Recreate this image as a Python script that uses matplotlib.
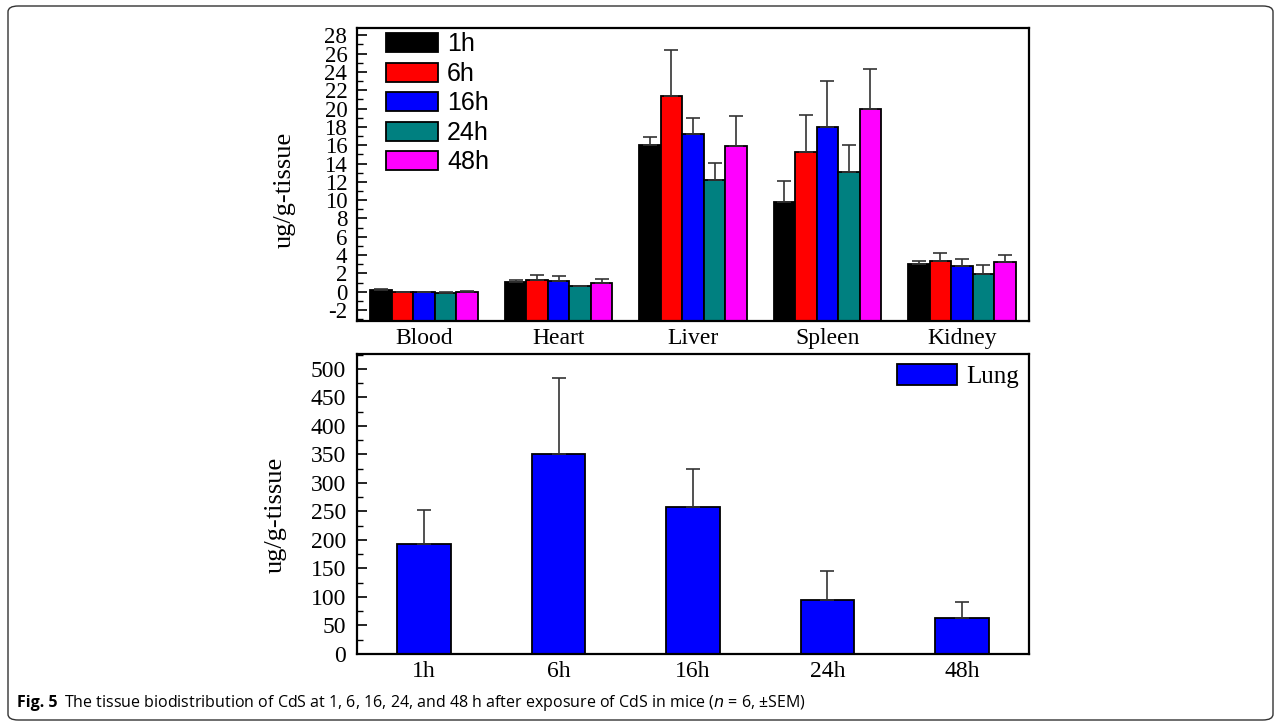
import numpy as np
import matplotlib
matplotlib.use("Agg")
import matplotlib.pyplot as plt
from matplotlib.patches import FancyBboxPatch
from matplotlib.ticker import MultipleLocator

plt.rcParams["axes.unicode_minus"] = False

# data
organs = ["Blood", "Heart", "Liver", "Spleen", "Kidney"]
times = ["1h", "6h", "16h", "24h", "48h"]
colors = ["#000000", "#ff0000", "#0000ff", "#008080", "#ff00ff"]

mean_1h = [0.2, 1.1, 16.0, 9.8, 3.0]
mean_6h = [-0.05, 1.3, 21.4, 15.3, 3.35]
mean_16h = [-0.05, 1.15, 17.2, 18.0, 2.8]
mean_24h = [-0.1, 0.6, 12.2, 13.1, 1.95]
mean_48h = [0.0, 0.9, 15.9, 20.0, 3.2]
err_1h = [0.05, 0.2, 0.9, 2.3, 0.3]
err_6h = [0.05, 0.55, 5.0, 4.0, 0.85]
err_16h = [0.05, 0.6, 1.8, 5.0, 0.75]
err_24h = [0.05, 0.0, 1.9, 2.95, 1.0]
err_48h = [0.05, 0.5, 3.3, 4.35, 0.8]

lung_mean = [193, 350, 257, 95, 63]
lung_err = [60, 134, 68, 50, 28]

means = [mean_1h, mean_6h, mean_16h, mean_24h, mean_48h]
errs = [err_1h, err_6h, err_16h, err_24h, err_48h]

serif = "Liberation Serif"

fig = plt.figure(figsize=(12.81, 7.26), dpi=100)
W, H = 1281, 726

# outer frame
frame = FancyBboxPatch((8 / W, 6 / H), 1265 / W, 714 / H,
                       boxstyle="round,pad=0,rounding_size=0.008",
                       transform=fig.transFigure, fill=False,
                       edgecolor="#333333", linewidth=1.0)
fig.patches.append(frame)

ax1 = fig.add_axes([357 / W, 1 - 321 / H, 672 / W, 293 / H])
ax2 = fig.add_axes([357 / W, 1 - 654 / H, 672 / W, 300 / H])

# top: grouped bars (Origin style, bars start at bottom of the axis)
ymin1, ymax1 = -3.2, 28.8
x = np.arange(len(organs))
bw = 0.16
ekw = dict(ecolor="#333333", elinewidth=1.2, capsize=5, capthick=1.2)
for i, t in enumerate(times):
    pos = x + (i - 2) * bw
    m = np.array(means[i])
    ax1.bar(pos, m - ymin1, bw, bottom=ymin1, color=colors[i],
            edgecolor="black", linewidth=1.3,
            yerr=[np.zeros(len(organs)), errs[i]], error_kw=ekw,
            label=t, zorder=2)

ax1.set_xlim(-0.5, 4.5)
ax1.set_ylim(ymin1, ymax1)
ax1.yaxis.set_major_locator(MultipleLocator(2))
ax1.yaxis.set_minor_locator(MultipleLocator(1))
ax1.set_xticks(x)
ax1.set_xticklabels(organs, fontsize=17, family=serif)
ax1.tick_params(axis="x", length=0, pad=5)
ax1.tick_params(axis="y", which="major", direction="in", length=7, width=1.2,
                labelsize=16.5, pad=7)
ax1.tick_params(axis="y", which="minor", direction="in", length=4, width=1.0)
for lab in ax1.get_yticklabels():
    lab.set_family(serif)
ax1.set_ylabel("ug/g-tissue", fontsize=19, family=serif)
ax1.yaxis.set_label_coords(-0.092, 0.447)
for s in ax1.spines.values():
    s.set_linewidth(1.6)
ax1.legend(loc="upper left", bbox_to_anchor=(0.043, 0.985),
           frameon=False, borderpad=0, borderaxespad=0,
           handlelength=2.1, handleheight=0.8, labelspacing=0.22,
           handletextpad=0.35, prop={"family": "Liberation Sans", "size": 18})

# bottom: lung
x2 = np.arange(len(times))
ax2.bar(x2, lung_mean, 0.4, color="#0000ff", edgecolor="black", linewidth=1.3,
        yerr=[np.zeros(len(times)), lung_err], error_kw=ekw, label="Lung",
        zorder=2)
ax2.set_xlim(-0.5, 4.5)
ax2.set_ylim(0, 526)
ax2.yaxis.set_major_locator(MultipleLocator(50))
ax2.yaxis.set_minor_locator(MultipleLocator(25))
ax2.set_xticks(x2)
ax2.set_xticklabels(times, fontsize=17, family=serif)
ax2.tick_params(axis="x", length=0, pad=5)
ax2.tick_params(axis="y", which="major", direction="in", length=7, width=1.2,
                labelsize=17, pad=8)
ax2.tick_params(axis="y", which="minor", direction="in", length=4, width=1.0)
for lab in ax2.get_yticklabels():
    lab.set_family(serif)
ax2.set_ylabel("ug/g-tissue", fontsize=19, family=serif)
ax2.yaxis.set_label_coords(-0.104, 0.463)
for s in ax2.spines.values():
    s.set_linewidth(1.6)
ax2.legend(loc="upper right", bbox_to_anchor=(0.985, 0.967), frameon=False,
           borderpad=0, borderaxespad=0, handlelength=2.4, handleheight=0.9,
           handletextpad=0.35, prop={"family": serif, "size": 18})

# caption
fig.text(17 / W, 1 - 703 / H, "Fig. 5", fontsize=11.5, fontweight="bold",
         family="Open Sans", va="center")
fig.text(64 / W, 1 - 703 / H,
         "The tissue biodistribution of CdS at 1, 6, 16, 24, and 48 h after exposure of CdS in mice ($\\it{n}$ = 6, \u00b1SEM)",
         fontsize=11.5, family="Open Sans", va="center")

fig.savefig("out.png", dpi=100)
